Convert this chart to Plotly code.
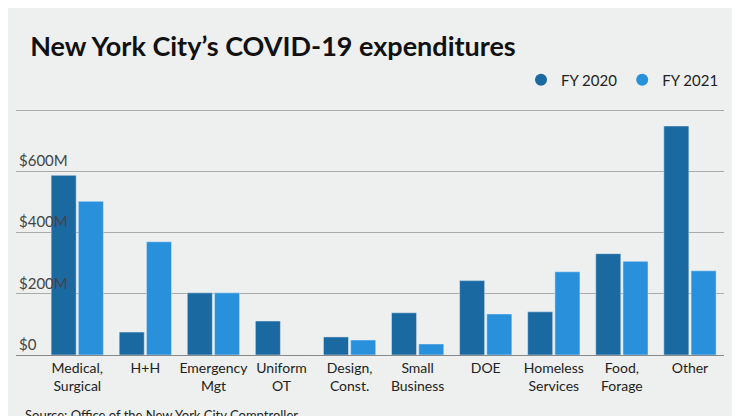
import plotly.graph_objects as go

categories = ["Medical,<br>Surgical", "H+H", "Emergency<br>Mgt", "Uniform<br>OT", "Design,<br>Const.",
              "Small<br>Business", "DOE", "Homeless<br>Services", "Food,<br>Forage", "Other"]
fy2020 = [587, 75, 203, 111, 59, 138, 243, 141, 331, 748]
fy2021 = [502, 370, 203, 0, 49, 36, 134, 272, 306, 275]
tick_vals = [0, 200, 400, 600, 800]
tick_text = ["$0", "$200M", "$400M", "$600M", "$800M"]

dark = "#1b69a1"
light = "#2990dc"

fig = go.Figure()
fig.add_bar(x=categories, y=fy2020, marker_color=dark, showlegend=False)
fig.add_bar(x=categories, y=fy2021, marker_color=light, showlegend=False)
# circle markers for the legend
fig.add_scatter(x=[None], y=[None], mode="markers", name="FY 2020",
                marker=dict(color=dark, size=12, symbol="circle"))
fig.add_scatter(x=[None], y=[None], mode="markers", name="FY 2021",
                marker=dict(color=light, size=12, symbol="circle"))

fig.update_layout(
    width=740, height=416,
    paper_bgcolor="#eef0ef", plot_bgcolor="#eef0ef",
    font=dict(family="Lato, Inter, sans-serif", size=14, color="#222"),
    title=dict(text="<b>New York City’s COVID-19 expenditures</b>", x=0.03, y=0.93,
               font=dict(size=27, color="#111")),
    margin=dict(l=8, r=24, t=96, b=69, autoexpand=False),
    barmode="group", bargap=0.2, bargroupgap=0.08,
    legend=dict(orientation="h", x=1, xanchor="right", y=1.03, yanchor="bottom",
                font=dict(size=15), bgcolor="rgba(0,0,0,0)"),
    xaxis=dict(tickfont=dict(size=14), showline=True, linecolor="#888", ticks="",
               range=[-0.9, 9.5]),
    yaxis=dict(range=[0, 820], tickvals=tick_vals, ticktext=tick_text,
               ticklabelposition="inside top", gridcolor="#aaa", zeroline=False,
               tickfont=dict(size=15)),
)
fig.add_annotation(text="Source: Office of the New York City Comptroller", xref="paper", yref="paper",
                   x=0.01, y=-0.2, xanchor="left", yanchor="top", showarrow=False,
                   font=dict(size=13))

fig.write_html("out.html")
